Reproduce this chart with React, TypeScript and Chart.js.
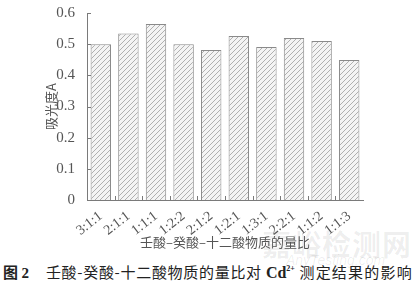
import React, { useEffect, useRef } from "react";
import { Chart, registerables } from "chart.js";

Chart.register(...registerables);

const categories = ["3:1:1", "2:1:1", "1:1:1", "1:2:2", "2:1:2", "1:2:1", "1:3:1", "2:2:1", "1:1:2", "1:1:3"];
const absorbance = [0.5, 0.534, 0.565, 0.5, 0.481, 0.526, 0.491, 0.52, 0.51, 0.449];
const yTicks = [0, 0.1, 0.2, 0.3, 0.4, 0.5, 0.6];
const xTitle = "壬酸–癸酸–十二酸物质的量比";
const yTitle = "吸光度A";

const AXIS = "#7a7a7a";
const TEXT = "#555";

function makeHatch(): CanvasPattern | string {
  const c = document.createElement("canvas");
  c.width = 5;
  c.height = 5;
  const g = c.getContext("2d");
  if (!g) return "#ddd";
  g.fillStyle = "#f4f4f4";
  g.fillRect(0, 0, 5, 5);
  g.strokeStyle = "#a8a8a8";
  g.lineWidth = 0.9;
  g.beginPath();
  g.moveTo(-1, 6);
  g.lineTo(6, -1);
  g.moveTo(-1, 1);
  g.lineTo(1, -1);
  g.moveTo(4, 6);
  g.lineTo(6, 4);
  g.stroke();
  const p = g.createPattern(c, "repeat");
  return p || "#ddd";
}

const innerTicks = {
  id: "innerTicks",
  afterDraw(chart: any) {
    const ctx = chart.ctx;
    const x = chart.scales.x;
    const y = chart.scales.y;
    ctx.save();
    ctx.strokeStyle = AXIS;
    ctx.lineWidth = 1;
    ctx.beginPath();
    yTicks.forEach((v) => {
      const py = Math.round(y.getPixelForValue(v)) + 0.5;
      ctx.moveTo(x.left, py);
      ctx.lineTo(x.left + 4, py);
    });
    for (let i = 0; i < categories.length - 1; i++) {
      const a = x.getPixelForValue(i);
      const b = x.getPixelForValue(i + 1);
      const px = Math.round((a + b) / 2) + 0.5;
      ctx.moveTo(px, y.bottom);
      ctx.lineTo(px, y.bottom - 4);
    }
    ctx.stroke();
    ctx.restore();
  },
};

export default function App() {
  const ref = useRef<HTMLCanvasElement>(null);
  useEffect(() => {
    if (!ref.current) return;
    const hatch = makeHatch();
    const chart = new Chart(ref.current, {
      type: "bar",
      data: {
        labels: categories,
        datasets: [
          {
            data: absorbance,
            backgroundColor: hatch as any,
            borderColor: "#8a8a8a",
            borderWidth: 1,
            barPercentage: 0.74,
            categoryPercentage: 1,
          },
        ],
      },
      options: {
        responsive: false,
        animation: false,
        layout: { padding: { left: 43, right: 51, top: 11, bottom: 0 } },
        plugins: { legend: { display: false }, tooltip: { enabled: false } },
        scales: {
          x: {
            grid: { display: false },
            border: { display: true, color: AXIS, width: 1 },
            ticks: {
              autoSkip: false,
              minRotation: 38,
              maxRotation: 38,
              padding: 0,
              color: TEXT,
              font: { family: "'Liberation Serif', serif", size: 14 },
            },
            title: {
              display: true,
              text: xTitle,
              color: TEXT,
              padding: 0,
              font: { family: "'Noto Sans CJK SC', sans-serif", size: 13 },
            },
            afterFit: (s: any) => {
              s.height = 50;
            },
          },
          y: {
            min: 0,
            max: 0.6,
            grid: { display: false },
            border: { display: true, color: AXIS, width: 1 },
            ticks: {
              stepSize: 0.1,
              padding: 4,
              color: TEXT,
              font: { family: "'Liberation Serif', serif", size: 15 },
            },
            title: {
              display: true,
              text: yTitle,
              color: TEXT,
              padding: 0,
              font: { family: "'Noto Sans CJK SC', sans-serif", size: 13 },
            },
            afterFit: (s: any) => {
              s.width = 44;
            },
          },
        },
      },
      plugins: [innerTicks],
    });
    return () => chart.destroy();
  }, []);

  return (
    <div style={{ position: "fixed", left: 0, top: 0, width: 414, height: 281, background: "#fff", overflow: "hidden" }}>
      <div
        style={{
          position: "absolute",
          left: 262,
          top: 226,
          fontFamily: "'Noto Sans CJK SC', sans-serif",
          fontSize: 29,
          fontWeight: 700,
          color: "rgba(0,0,0,0.07)",
          letterSpacing: 1,
          whiteSpace: "nowrap",
          lineHeight: "34px",
        }}
      >
        嘉峪检测网
      </div>
      <div
        style={{
          position: "absolute",
          left: 286,
          top: 252,
          fontFamily: "'Liberation Sans', sans-serif",
          fontStyle: "italic",
          fontSize: 14,
          color: "rgba(0,0,0,0.07)",
          whiteSpace: "nowrap",
        }}
      >
        AnyTesting.com
      </div>
      <canvas ref={ref} width={414} height={250} style={{ position: "absolute", left: 0, top: 0, width: 414, height: 250 }} />
      <div
        style={{
          position: "absolute",
          left: 3,
          top: 259,
          whiteSpace: "nowrap",
          fontSize: 15,
          lineHeight: "20px",
          color: "#222",
          fontFamily: "'Noto Sans CJK SC', sans-serif",
        }}
      >
        <span style={{ fontWeight: 700 }}>图 </span>
        <span style={{ fontFamily: "'Liberation Serif', serif", fontWeight: 700 }}>2</span>
        <span style={{ marginLeft: 17, letterSpacing: 0.7 }}>壬酸-癸酸-十二酸物质的量比对 </span>
        <span style={{ fontFamily: "'Liberation Serif', serif", fontWeight: 700, fontSize: 16 }}>
          Cd<sup style={{ fontSize: 8, verticalAlign: "7px" }}>2+</sup>
        </span>
        <span style={{ letterSpacing: 1.2 }}> 测定结果的影响</span>
      </div>
    </div>
  );
}
